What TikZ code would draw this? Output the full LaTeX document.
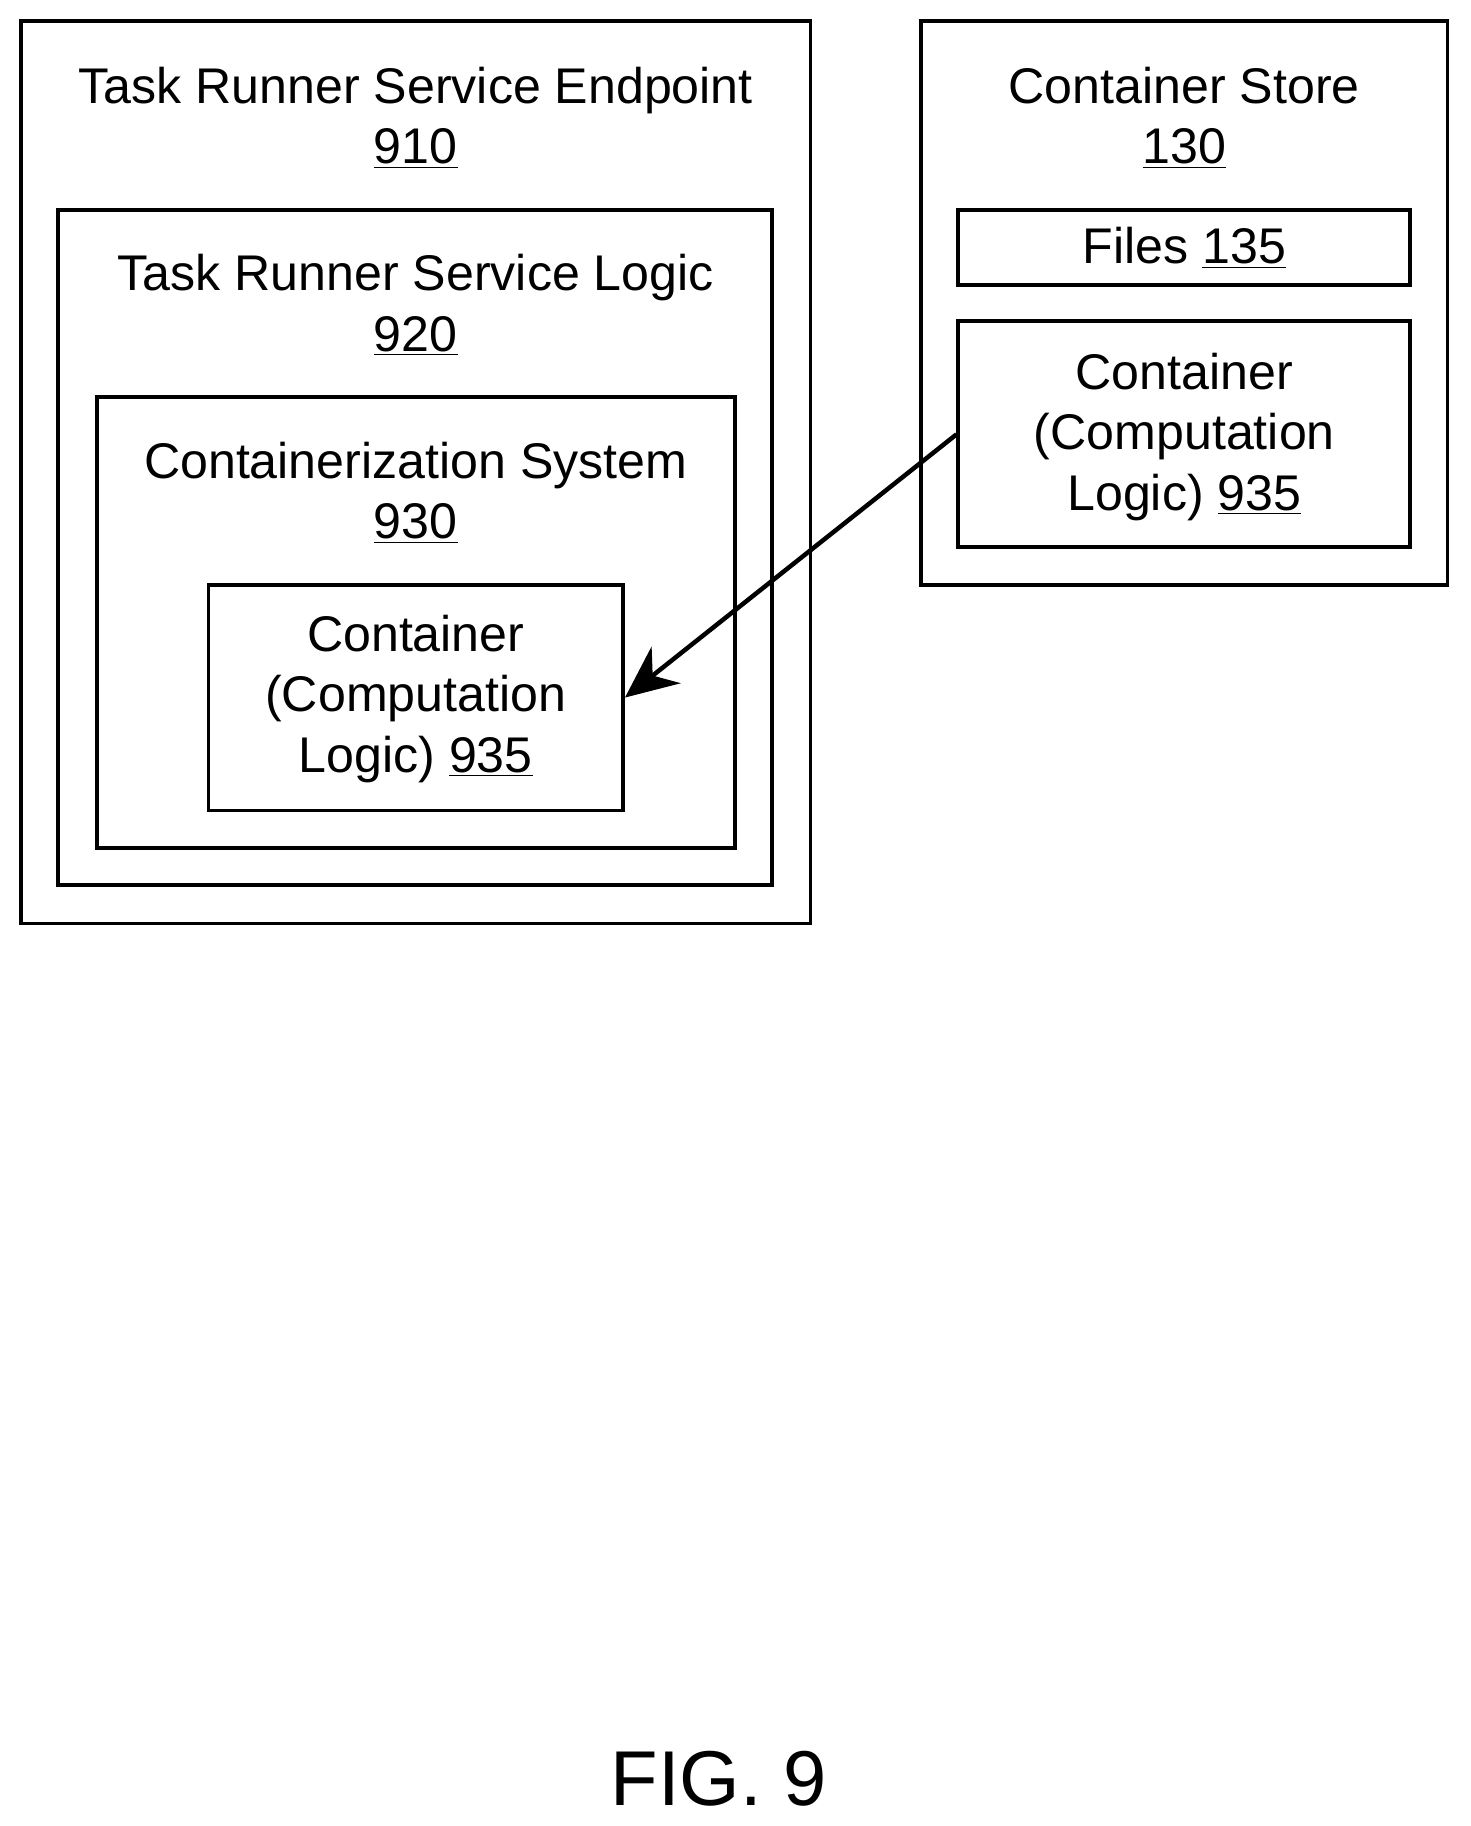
\documentclass[tikz,border=0pt]{standalone}
\usepackage{fontspec}
\setmainfont{Liberation Sans}
\usetikzlibrary{arrows.meta}
\begin{document}
\begin{tikzpicture}[x=0.02cm, y=-0.02cm]
        %style
        \tikzset{box/.style = {shape=rectangle, draw, line width=1.9pt, inner sep=0pt}}
        \tikzset{label/.style = {align=center, font=\fontsize{24.5}{29.5}\selectfont, inner sep=0pt}}
        \useasboundingbox (0,0) rectangle (1263,1568);
        % left side
        \node[box, minimum width=678*0.02cm, minimum height=775*0.02cm] (endpoint) at (357,405.5) {};
        \node[box, minimum width=613*0.02cm, minimum height=580*0.02cm] (logic) at (356.5,470) {};
        \node[box, minimum width=548*0.02cm, minimum height=387*0.02cm] (cs) at (357,534.5) {};
        \node[box, minimum width=356*0.02cm, minimum height=194*0.02cm] (cont) at (357,599) {};
        \node[label] (endpointT) at (357,101) {Task Runner Service Endpoint\\\underline{910}};
        \node[label] (logicT) at (357,262) {Task Runner Service Logic\\\underline{920}};
        \node[label] (csT) at (357,423) {Containerization System\\\underline{930}};
        \node[label] (contT) at (357,600) {Container\\(Computation\\Logic) \underline{935}};
        % right side
        \node[box, minimum width=452*0.02cm, minimum height=484*0.02cm] (store) at (1017,260) {};
        \node[box, minimum width=388*0.02cm, minimum height=65*0.02cm] (files) at (1017,212.5) {};
        \node[box, minimum width=388*0.02cm, minimum height=194*0.02cm] (scont) at (1017,373) {};
        \node[label] (storeT) at (1017,101) {Container Store\\\underline{130}};
        \node[label] (filesT) at (1017,213) {Files \underline{135}};
        \node[label] (scontT) at (1017,375) {Container\\(Computation\\Logic) \underline{935}};
        \draw [line width=2.2pt, -{Stealth[length=9mm, width=8mm]}] (scont.west) -- (cont.east);
        \node[font=\fontsize{38}{46}\selectfont] (fig) at (617,1527) {FIG. 9};
\end{tikzpicture}
\end{document}
